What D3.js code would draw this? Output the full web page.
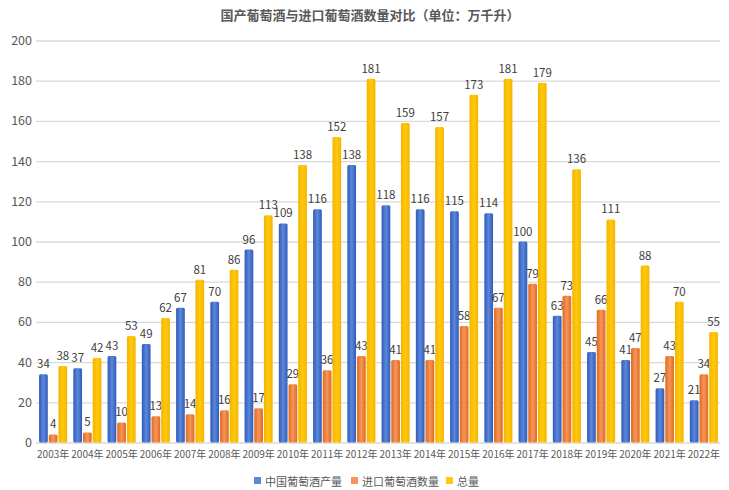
<!DOCTYPE html>
<html><head><meta charset="utf-8">
<script src="https://cdn.jsdelivr.net/npm/d3@7"></script>
<style>body{margin:0;background:#fff}svg{display:block}</style>
</head><body>
<script>
const years = ["2003年","2004年","2005年","2006年","2007年","2008年","2009年","2010年","2011年","2012年","2013年","2014年","2015年","2016年","2017年","2018年","2019年","2020年","2021年","2022年"];
const domestic = [34,37,43,49,67,70,96,109,116,138,118,116,115,114,100,63,45,41,27,21];
const imported = [4,5,10,13,14,16,17,29,36,43,41,41,58,67,79,73,66,47,43,34];
const total = [38,42,53,62,81,86,113,138,152,181,159,157,173,181,179,136,111,88,70,55];
const seriesNames = ["中国葡萄酒产量","进口葡萄酒数量","总量"];
const yTicks = [0,20,40,60,80,100,120,140,160,180,200];
const title = "国产葡萄酒与进口葡萄酒数量对比（单位：万千升）";

const W=729,H=490;
const colors=[["#2f5bb8","#5b87dc"],["#e06a1c","#f6955a"],["#f5b400","#ffc90e"]];
const svg=d3.select("body").append("svg").attr("width",W).attr("height",H);
const defs=svg.append("defs");
colors.forEach((c,i)=>{
  const g=defs.append("linearGradient").attr("id","g"+i).attr("x1","0").attr("x2","1").attr("y1","0").attr("y2","0");
  g.append("stop").attr("offset","0%").attr("stop-color",c[0]);
  g.append("stop").attr("offset","50%").attr("stop-color",c[1]);
  g.append("stop").attr("offset","100%").attr("stop-color",c[0]);
});
const font="'Microsoft YaHei','Noto Sans CJK SC','Noto Sans',sans-serif";
const x=d3.scaleBand().domain(years).range([36,721]).paddingInner(0.18).paddingOuter(0.09);
const y=d3.scaleLinear().domain([0,200]).range([442.5,40.5]);
const xs=d3.scaleBand().domain([0,1,2]).range([0,x.bandwidth()]).paddingInner(0.1);

svg.append("text").attr("x",370).attr("y",20).attr("text-anchor","middle")
  .attr("font-family",font).attr("font-size",13).attr("font-weight","bold").attr("fill","#595959").text(title);

const ya=svg.append("g").attr("transform","translate(36,0)")
  .call(d3.axisLeft(y).tickValues(yTicks).tickSize(-(720-36)).tickPadding(4));
ya.select(".domain").remove();
ya.selectAll(".tick line").attr("stroke","#d9d9d9").attr("stroke-width",1.3);
ya.selectAll(".tick text").attr("font-family",font).attr("font-size",12.5).attr("fill","#595959");

const xa=svg.append("g").attr("transform","translate(0,442.5)").call(d3.axisBottom(x).tickSize(0).tickPadding(8));
xa.select(".domain").remove();
xa.selectAll(".tick text").attr("font-family",font).attr("font-size",10).attr("fill","#595959");

const data=[domestic,imported,total];
data.forEach((arr,si)=>{
  const g=svg.append("g");
  g.selectAll("rect").data(arr).join("rect")
    .attr("x",(d,i)=>x(years[i])+xs(si)).attr("width",xs.bandwidth())
    .attr("y",d=>y(d)).attr("height",d=>y(0)-y(d)).attr("rx",1.5)
    .attr("fill","url(#g"+si+")");
  g.selectAll("text").data(arr).join("text")
    .attr("x",(d,i)=>x(years[i])+xs(si)+xs.bandwidth()/2).attr("y",d=>y(d)-6)
    .attr("text-anchor","middle").attr("font-family",font).attr("font-size",11.5).attr("fill","#404040").text(d=>d);
});

const leg=svg.append("g").attr("transform","translate(0,486)");
const lx=[254,351,446];
seriesNames.forEach((n,i)=>{
  leg.append("rect").attr("x",lx[i]).attr("y",-9).attr("width",7).attr("height",7).attr("fill",colors[i][1]);
  leg.append("text").attr("x",lx[i]+11).attr("y",0).attr("font-family",font).attr("font-size",11).attr("fill","#595959").text(n);
});
</script>
</body></html>
